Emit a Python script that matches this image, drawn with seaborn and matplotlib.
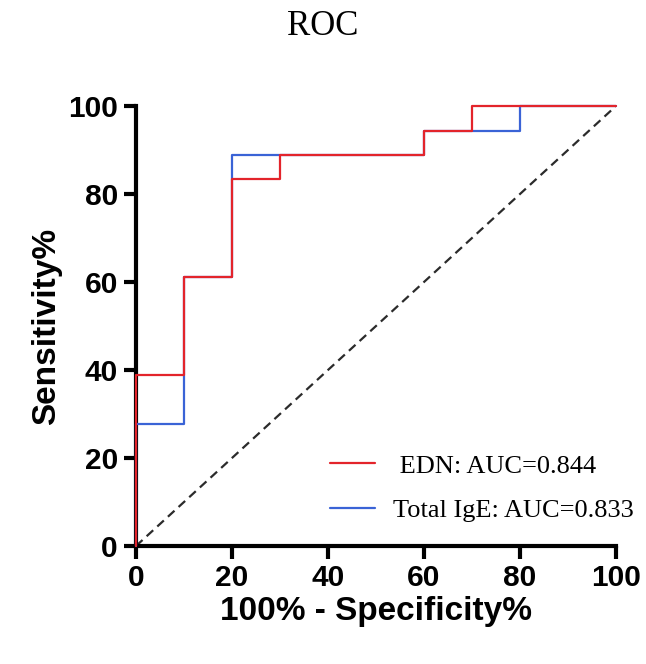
import matplotlib
matplotlib.use("Agg")
import matplotlib.pyplot as plt
import seaborn as sns
import pandas as pd

# ROC vertices (100% - specificity, sensitivity)
edn_fpr = [0, 0, 10, 20, 30, 60, 70, 100]
edn_tpr = [0, 38.9, 61.1, 83.3, 88.9, 94.4, 100, 100]
ige_fpr = [0, 0, 10, 20, 60, 80, 100]
ige_tpr = [0, 27.8, 61.1, 88.9, 94.4, 100, 100]
labels = [" EDN: AUC=0.844", "Total IgE: AUC=0.833"]
colors = ["#E3242B", "#3A63D6"]

df_edn = pd.DataFrame({"fpr": edn_fpr, "tpr": edn_tpr})
df_ige = pd.DataFrame({"fpr": ige_fpr, "tpr": ige_tpr})

sns.set_theme(style="ticks")
plt.rcParams["font.family"] = ["Liberation Sans", "DejaVu Sans"]
plt.rcParams.update({
    "text.color": "black",
    "axes.labelcolor": "black",
    "axes.edgecolor": "black",
    "xtick.color": "black",
    "ytick.color": "black",
})

fig = plt.figure(figsize=(6.46, 6.64), dpi=100)
ax = fig.add_axes([0.2105, 0.1777, 0.7431, 0.6627])

ax.plot([0, 100], [0, 100], color="#2b2b2b", linestyle=(0, (4, 2.5)), linewidth=1.6, zorder=2)

sns.lineplot(data=df_ige, x="fpr", y="tpr", sort=False, estimator=None, ax=ax,
             color=colors[1], linewidth=1.6, drawstyle="steps-post", label=labels[1],
             clip_on=False, zorder=4)
sns.lineplot(data=df_edn, x="fpr", y="tpr", sort=False, estimator=None, ax=ax,
             color=colors[0], linewidth=1.6, drawstyle="steps-post", label=labels[0],
             clip_on=False, zorder=5)

ax.set_xlim(0, 100)
ax.set_ylim(0, 100)
ax.set_xticks(range(0, 101, 20))
ax.set_yticks(range(0, 101, 20))
sns.despine(ax=ax)
for s in ["left", "bottom"]:
    ax.spines[s].set_linewidth(3)
ax.tick_params(width=3, length=9, labelsize=21.5, pad=4)
for t in ax.get_xticklabels() + ax.get_yticklabels():
    t.set_fontweight("bold")

ax.set_xlabel("100% - Specificity%", fontsize=24, fontweight="bold", labelpad=3)
ax.set_ylabel("Sensitivity%", fontsize=24, fontweight="bold", labelpad=4)
fig.text(0.5, 0.985, "ROC", ha="center", va="top", fontsize=25, family="Liberation Serif")

handles, labs = ax.get_legend_handles_labels()
order = [1, 0]
leg = ax.legend([handles[i] for i in order], [labs[i] for i in order],
                loc="lower left", bbox_to_anchor=(0.354, 0.0), frameon=False,
                prop={"family": "Liberation Serif", "size": 19},
                handlelength=1.7, labelspacing=0.8, handletextpad=0.7)

fig.savefig("out.png", dpi=100)
